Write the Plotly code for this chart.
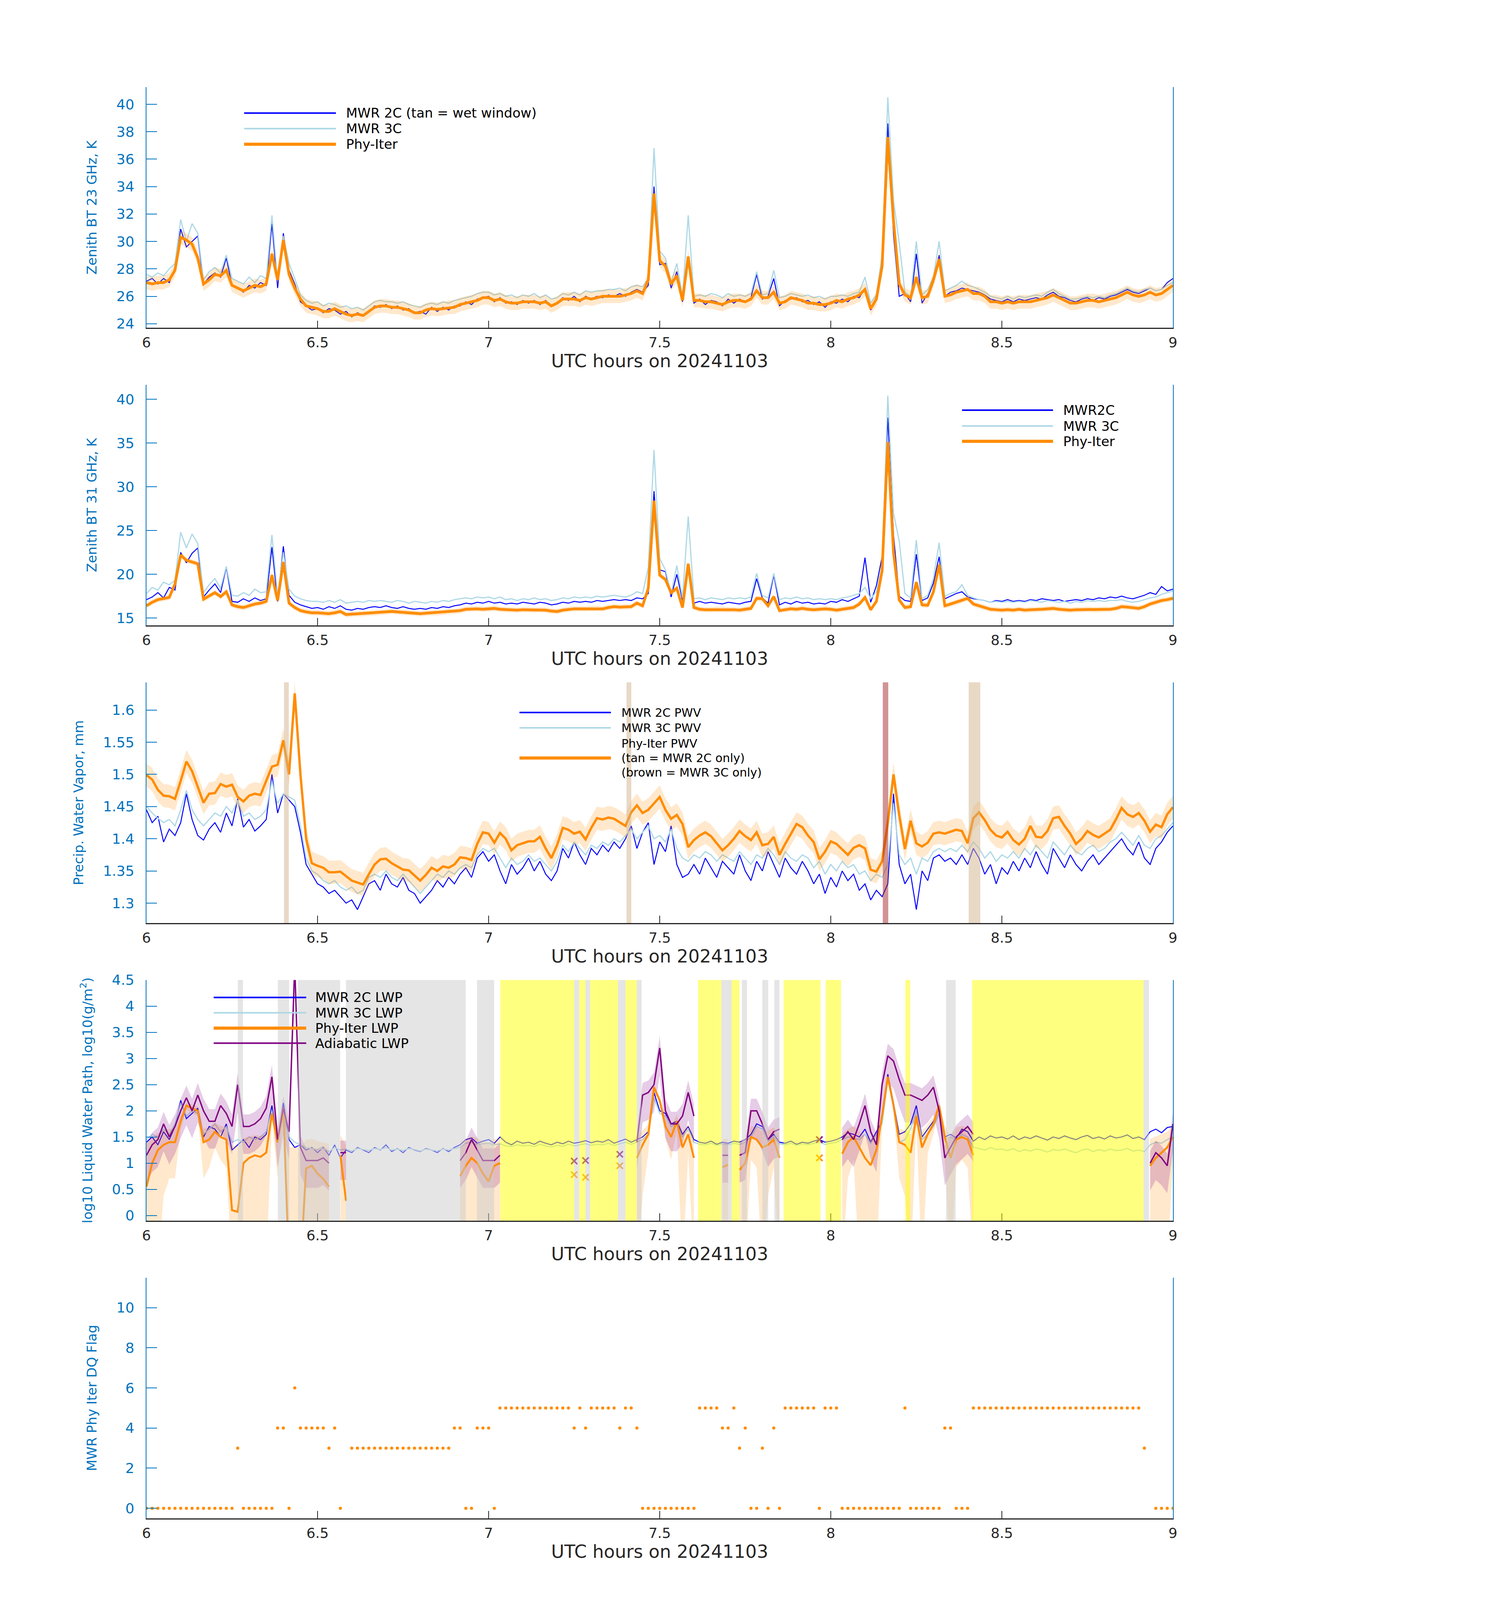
import numpy as np
import plotly.graph_objects as go

N = None
# ---------------- time axis (1-minute samples, UTC hours) ----------------
T_START = 6.0
def tgrid(vals):
    return T_START + np.arange(len(vals)) / 60.0

# ---------------- Panel 1: 23 GHz brightness temperature (K) ----------------
tb23_2c = [27.1, 27.3, 26.9, 27.3, 27.0, 28.1, 30.9, 29.6, 30.0, 30.4,
           26.9, 27.4, 27.7, 27.4, 28.8, 26.8, 26.6, 26.3, 26.8, 26.6,
           27.0, 26.8, 31.3, 26.6, 30.6, 27.9, 26.9, 25.6, 25.3, 25.0,
           25.1, 24.8, 25.1, 25.0, 24.7, 24.9, 24.5, 24.8, 24.6, 24.9,
           25.3, 25.2, 25.4, 25.1, 25.3, 25.0, 25.1, 24.8, 24.9, 24.7,
           25.2, 24.9, 25.2, 25.0, 25.3, 25.3, 25.6, 25.4, 25.8, 25.9,
           26.0, 25.6, 25.9, 25.5, 25.6, 25.4, 25.7, 25.5, 25.7, 25.4,
           25.7, 25.3, 25.5, 25.9, 25.7, 26.0, 25.6, 26.0, 25.8, 26.0,
           25.9, 26.1, 26.0, 26.2, 26.0, 26.3, 26.5, 26.3, 26.8, 34.0,
           28.3, 28.4, 26.6, 27.8, 25.6, 28.8, 25.5, 25.8, 25.4, 25.7,
           25.6, 25.3, 25.8, 25.5, 25.8, 25.6, 25.9, 27.6, 25.8, 26.0,
           27.3, 25.3, 25.7, 25.8, 25.9, 25.6, 25.7, 25.4, 25.6, 25.2,
           25.6, 25.5, 25.8, 25.6, 26.0, 25.9, 26.6, 25.0, 25.7, 28.0,
           38.6, 30.5, 26.0, 26.2, 25.6, 29.1, 25.5, 26.2, 27.0, 29.0,
           26.0, 26.3, 26.4, 26.6, 26.5, 26.4, 26.3, 26.1, 25.8, 25.7,
           25.6, 25.8, 25.6, 25.8, 25.7, 25.8, 25.9, 25.8, 26.1, 26.3,
           26.0, 25.9, 25.7, 25.6, 25.8, 25.9, 25.7, 25.9, 25.8, 26.0,
           26.1, 26.3, 26.5, 26.3, 26.2, 26.4, 26.6, 26.4, 26.5, 27.0,
           27.3]
tb23_3c = [27.6, 27.4, 27.7, 27.5, 28.0, 28.4, 31.6, 30.0, 31.3, 30.6,
           27.2, 27.8, 28.1, 27.7, 29.0, 27.3, 27.1, 26.9, 27.4, 27.0,
           27.5, 27.3, 31.9, 27.2, 30.4, 28.4, 27.3, 26.1, 25.7, 25.5,
           25.6, 25.3, 25.5, 25.4, 25.2, 25.3, 25.1, 25.2, 25.0, 25.3,
           25.6, 25.7, 25.6, 25.6, 25.5, 25.6, 25.4, 25.3, 25.2, 25.4,
           25.5, 25.4, 25.6, 25.5, 25.7, 25.8, 25.9, 26.0, 26.2, 26.3,
           26.3, 26.1, 26.2, 26.0, 26.1, 25.9, 26.1, 26.0, 26.2, 25.9,
           26.1, 25.8, 25.9, 26.2, 26.1, 26.3, 26.1, 26.4, 26.3, 26.4,
           26.4, 26.5, 26.5, 26.6, 26.4, 26.7, 26.8, 26.7, 27.3, 36.8,
           29.3, 28.8, 27.0, 28.4, 26.0, 31.9, 26.0, 26.1, 26.0, 26.2,
           26.1, 25.9, 26.2, 26.0, 26.1, 26.0, 26.2, 27.8, 26.1, 26.2,
           27.9, 25.9, 26.0, 26.2, 26.1, 26.0, 26.1, 25.9, 26.0, 25.8,
           26.0, 26.0, 26.1, 26.0, 26.2, 26.3, 27.4, 25.5, 26.1, 29.0,
           40.5, 33.0, 29.9, 26.3, 26.0, 30.0, 26.1, 26.5, 27.4, 30.0,
           26.4, 26.6, 26.8, 27.1, 26.8, 26.7, 26.5, 26.3, 26.0, 25.9,
           25.8, 26.0, 25.8, 26.0, 25.9, 26.0, 26.1, 26.0, 26.3, 26.5,
           26.2, 26.0, 25.8, 25.8, 25.9, 26.0, 25.9, 26.0, 25.9, 26.1,
           26.2, 26.4, 26.6, 26.4, 26.3, 26.5, 26.6, 26.4, 26.5, 26.8,
           27.0]
tb23_phy = [27.0, 26.9, 27.0, 27.0, 27.2, 27.9, 30.3, 30.1, 29.8, 28.8,
            26.9, 27.2, 27.6, 27.5, 27.9, 26.8, 26.6, 26.4, 26.6, 26.8,
            26.7, 26.9, 29.1, 27.2, 30.1, 27.6, 26.6, 25.8, 25.3, 25.2,
            25.1, 24.9, 24.9, 25.1, 24.9, 24.7, 24.6, 24.7, 24.6, 24.9,
            25.2, 25.3, 25.3, 25.2, 25.2, 25.1, 25.0, 24.8, 24.8, 25.0,
            25.1, 25.05, 25.1, 25.2, 25.2, 25.4, 25.5, 25.6, 25.7, 25.9,
            25.9, 25.7, 25.8, 25.6, 25.5, 25.5, 25.6, 25.6, 25.6, 25.5,
            25.6, 25.3, 25.5, 25.8, 25.8, 25.8, 25.7, 25.9, 25.8, 25.9,
            26.0, 26.0, 26.0, 26.0, 26.1, 26.2, 26.4, 26.2, 27.2, 33.5,
            28.6, 28.2, 26.9, 27.5, 25.7, 28.9, 25.7, 25.7, 25.6, 25.6,
            25.5, 25.4, 25.6, 25.7, 25.7, 25.6, 25.8, 26.4, 25.9, 25.9,
            26.3, 25.5, 25.6, 25.9, 25.8, 25.7, 25.5, 25.5, 25.4, 25.4,
            25.5, 25.7, 25.6, 25.8, 25.9, 26.1, 26.5, 25.1, 25.8, 28.2,
            37.6, 31.5, 26.9, 26.1, 25.9, 27.4, 25.9, 26.0, 27.2, 28.7,
            26.0, 26.1, 26.3, 26.4, 26.5, 26.2, 26.2, 26.0, 25.6, 25.6,
            25.5, 25.6, 25.5, 25.6, 25.6, 25.6, 25.7, 25.8, 25.9, 26.1,
            25.9, 25.7, 25.5, 25.5, 25.6, 25.7, 25.7, 25.6, 25.7, 25.8,
            25.9, 26.1, 26.3, 26.1, 26.0, 26.1, 26.3, 26.1, 26.2, 26.5,
            26.8]
tb23_unc = 0.5

# ---------------- Panel 2: 31 GHz brightness temperature (K) ----------------
tb31_2c = [17.1, 17.4, 17.9, 17.3, 18.5, 18.2, 22.5, 21.3, 22.4, 23.0,
           17.4, 18.2, 18.9, 17.9, 20.8, 16.9, 16.8, 17.2, 16.9, 17.3,
           17.0, 17.2, 23.1, 16.9, 23.2, 17.6, 16.8, 16.5, 16.3, 16.1,
           16.2, 16.0, 16.3, 16.1, 16.4, 16.0, 15.9, 16.1, 16.0, 16.2,
           16.3, 16.2, 16.4, 16.2, 16.1, 16.3, 16.1, 16.0, 16.1, 16.0,
           16.2, 16.1, 16.3, 16.2, 16.4, 16.5, 16.7, 16.6, 16.8, 16.7,
           16.9, 16.7, 16.8, 16.6, 16.7, 16.6, 16.8, 16.7, 16.6, 16.8,
           16.7, 16.5, 16.6, 16.8, 16.7, 16.9, 16.8, 16.9, 16.8, 17.0,
           16.9, 17.0, 17.1, 17.0, 17.1, 17.0, 17.3, 17.2, 17.8, 29.5,
           20.5, 20.3, 17.4, 20.0, 17.0, 21.2, 16.7, 16.9, 16.7, 16.8,
           16.7, 16.6, 16.8, 16.7, 16.6, 16.8, 16.9, 19.5, 17.3, 16.7,
           19.9, 16.5, 16.8, 16.6, 16.9, 16.7, 16.8, 16.6, 16.7, 16.6,
           16.9, 16.8, 17.1, 16.9, 17.2, 17.5, 21.9, 16.8, 18.7, 22.0,
           37.9, 24.5, 17.5, 17.0, 16.9, 22.3, 17.0, 17.3, 19.0, 22.0,
           17.2, 17.5, 17.8, 18.0, 17.4, 17.2, 17.1, 17.0, 16.8, 17.0,
           16.9, 17.1, 16.9, 17.0, 16.9, 17.1, 17.0, 17.2, 17.1, 17.0,
           17.1, 16.9, 17.0, 17.1, 17.0, 17.2, 17.1, 17.3, 17.2, 17.4,
           17.3, 17.5, 17.3, 17.2, 17.4, 17.6, 17.9, 17.7, 18.6, 18.1,
           18.3]
tb31_3c = [17.8, 18.5, 18.2, 19.1, 18.8, 19.3, 24.8, 23.0, 24.6, 23.5,
           17.9, 18.8, 19.5, 18.4, 20.9, 17.6, 17.5, 17.9, 17.6, 18.3,
           17.9, 18.0, 24.5, 17.6, 22.5, 18.3, 17.5, 17.2, 17.0, 16.9,
           16.9, 16.8, 17.0, 16.8, 17.1, 16.7, 16.8, 16.9, 16.8, 17.0,
           16.9, 17.0, 16.9, 16.8, 17.0, 16.9, 16.7, 16.9, 16.8, 16.7,
           16.9, 16.8, 17.0, 16.9, 17.1, 17.2, 17.3, 17.2, 17.4, 17.3,
           17.4, 17.2, 17.4, 17.1, 17.2, 17.0, 17.2, 17.1, 17.3, 17.1,
           17.2, 17.0, 17.1, 17.3, 17.2, 17.4, 17.3, 17.4, 17.3, 17.5,
           17.4, 17.5, 17.6, 17.5, 17.4, 17.6, 18.0, 17.8, 20.8, 34.2,
           21.8, 20.5, 17.8, 21.0, 17.3, 26.6, 17.2, 17.3, 17.1, 17.3,
           17.2, 17.1, 17.3, 17.2, 17.3, 17.2, 17.4, 20.1, 17.6, 17.3,
           20.1, 17.1, 17.3, 17.2, 17.4, 17.2, 17.3, 17.1, 17.2, 17.1,
           17.2, 17.1, 17.3, 17.4, 17.6, 17.8, 18.5, 17.2, 18.0, 21.0,
           40.4, 27.0, 23.8, 17.8, 17.3, 23.9, 17.2, 17.6, 19.5, 23.6,
           17.5, 17.8, 18.0, 18.8, 17.6, 17.3, 17.1, 17.0, 16.8, 16.9,
           16.8, 16.9, 16.8, 16.9, 16.8, 17.0, 16.9, 16.8, 17.0, 16.9,
           16.8, 16.9, 16.7, 16.9, 16.8, 17.0, 16.9, 17.0, 16.9, 17.0,
           17.0, 17.1, 16.9, 16.8, 16.9, 17.1, 17.3, 17.4, 17.7, 17.9,
           18.1]
tb31_phy = [16.4, 16.8, 17.1, 17.25, 17.35, 18.9, 22.2, 21.6, 21.4, 21.2,
            17.15, 17.5, 17.9, 17.45, 18.0, 16.5, 16.3, 16.2, 16.4, 16.6,
            16.7, 16.9, 19.9, 17.0, 21.4, 16.7, 16.2, 15.85, 15.7, 15.6,
            15.6, 15.55, 15.5, 15.6, 15.75, 15.4, 15.45, 15.5, 15.5, 15.55,
            15.6, 15.65, 15.7, 15.75, 15.7, 15.65, 15.6, 15.55, 15.5, 15.55,
            15.6, 15.6, 15.65, 15.75, 15.75, 15.85, 16.0, 16.05, 16.05, 16.0,
            16.05, 16.1, 16.0, 15.95, 15.95, 15.9, 15.95, 15.95, 15.9, 15.95,
            15.9, 15.8, 15.75, 15.9, 16.0, 16.05, 16.05, 16.05, 16.1, 16.1,
            16.05, 16.2, 16.3, 16.25, 16.3, 16.3, 16.7, 16.4, 18.4, 28.4,
            19.9, 19.4, 17.9, 18.4, 16.2, 21.2, 16.2, 16.0, 15.95, 15.95,
            16.0, 16.0, 15.95, 15.95, 15.9, 16.0, 16.1, 17.25, 17.2, 16.4,
            17.45, 15.85, 15.95, 16.05, 16.0, 16.1, 16.0, 15.95, 16.0, 16.05,
            16.0, 15.9, 16.0, 16.1, 16.2, 16.6, 17.35, 15.95, 16.9, 20.4,
            35.1, 22.5, 17.05, 16.2, 16.3, 19.1, 16.5, 16.45, 18.0, 21.1,
            16.4, 16.6, 16.8, 17.0, 17.25, 16.6, 16.4, 16.2, 16.0, 15.95,
            15.9, 15.95, 15.9, 16.0, 15.9, 15.95, 15.95, 16.0, 16.05, 16.1,
            16.0, 15.95, 15.9, 15.95, 15.95, 16.0, 15.95, 15.95, 16.0, 16.0,
            16.1, 16.3, 16.25, 16.2, 16.1, 16.3, 16.6, 16.8, 17.0, 17.1,
            17.25]
tb31_unc = 0.3

# ---------------- Panel 3: precipitable water vapour (mm) ----------------
pwv_2c = [1.445, 1.425, 1.435, 1.395, 1.415, 1.405, 1.425, 1.470, 1.430, 1.405,
          1.398, 1.415, 1.425, 1.410, 1.440, 1.420, 1.462, 1.418, 1.430, 1.412,
          1.420, 1.430, 1.500, 1.440, 1.470, 1.460, 1.450, 1.410, 1.360, 1.345,
          1.330, 1.325, 1.315, 1.320, 1.310, 1.300, 1.305, 1.290, 1.310, 1.330,
          1.335, 1.320, 1.345, 1.330, 1.325, 1.340, 1.320, 1.315, 1.300, 1.310,
          1.320, 1.335, 1.325, 1.340, 1.330, 1.345, 1.355, 1.340, 1.370, 1.380,
          1.365, 1.375, 1.350, 1.330, 1.360, 1.345, 1.355, 1.370, 1.350, 1.365,
          1.345, 1.335, 1.350, 1.385, 1.370, 1.395, 1.375, 1.360, 1.385, 1.375,
          1.390, 1.380, 1.395, 1.385, 1.400, 1.420, 1.385, 1.410, 1.425, 1.360,
          1.395, 1.380, 1.420, 1.360, 1.340, 1.345, 1.360, 1.345, 1.370, 1.355,
          1.340, 1.365, 1.355, 1.345, 1.375, 1.350, 1.335, 1.365, 1.350, 1.380,
          1.360, 1.340, 1.370, 1.355, 1.345, 1.365, 1.350, 1.330, 1.345, 1.315,
          1.340, 1.325, 1.350, 1.335, 1.345, 1.320, 1.330, 1.305, 1.320, 1.310,
          1.330, 1.470, 1.360, 1.330, 1.345, 1.290, 1.350, 1.335, 1.370, 1.375,
          1.365, 1.370, 1.360, 1.375, 1.360, 1.385, 1.370, 1.345, 1.360, 1.330,
          1.355, 1.345, 1.365, 1.350, 1.370, 1.355, 1.380, 1.360, 1.345, 1.385,
          1.370, 1.355, 1.375, 1.360, 1.350, 1.365, 1.375, 1.360, 1.370, 1.380,
          1.390, 1.400, 1.385, 1.375, 1.395, 1.370, 1.360, 1.385, 1.395, 1.410,
          1.420]
pwv_3c = [1.450, 1.440, 1.432, 1.425, 1.430, 1.420, 1.445, 1.475, 1.445, 1.430,
          1.420, 1.430, 1.440, 1.435, 1.450, 1.440, 1.460, 1.435, 1.440, 1.430,
          1.435, 1.445, 1.490, 1.455, 1.470, 1.465, 1.460, 1.420, 1.370, 1.350,
          1.345, 1.335, 1.330, 1.335, 1.325, 1.320, 1.325, 1.315, 1.320, 1.340,
          1.345, 1.340, 1.350, 1.340, 1.335, 1.345, 1.335, 1.325, 1.315, 1.325,
          1.335, 1.345, 1.340, 1.350, 1.345, 1.355, 1.360, 1.355, 1.375, 1.385,
          1.380, 1.385, 1.370, 1.355, 1.370, 1.360, 1.365, 1.375, 1.365, 1.370,
          1.360, 1.350, 1.365, 1.390, 1.380, 1.395, 1.385, 1.375, 1.390, 1.385,
          1.395, 1.390, 1.400, 1.395, 1.405, 1.415, 1.400, 1.410, 1.420, 1.400,
          1.405, 1.395, 1.415, 1.385, 1.370, 1.365, 1.375, 1.370, 1.380, 1.375,
          1.365, 1.375, 1.370, 1.365, 1.380, 1.370, 1.360, 1.375, 1.370, 1.385,
          1.375, 1.360, 1.380, 1.370, 1.365, 1.375, 1.370, 1.355, 1.365, 1.345,
          1.360, 1.350, 1.365, 1.355, 1.360, 1.345, 1.350, 1.335, 1.345, 1.340,
          1.360, 1.455, 1.375, 1.360, 1.370, 1.345, 1.370, 1.365, 1.380, 1.385,
          1.380, 1.385, 1.380, 1.390, 1.380, 1.395, 1.385, 1.370, 1.380, 1.365,
          1.375, 1.370, 1.380, 1.370, 1.385, 1.375, 1.390, 1.380, 1.370, 1.395,
          1.385, 1.375, 1.390, 1.380, 1.375, 1.385, 1.390, 1.380, 1.385, 1.395,
          1.400, 1.410, 1.400, 1.390, 1.405, 1.390, 1.385, 1.400, 1.405, 1.415,
          1.425]
pwv_phy = [1.499, 1.492, 1.476, 1.467, 1.466, 1.462, 1.490, 1.520, 1.505, 1.481,
           1.456, 1.470, 1.471, 1.485, 1.481, 1.484, 1.465, 1.458, 1.467, 1.470,
           1.468, 1.490, 1.512, 1.515, 1.553, 1.500, 1.626, 1.500, 1.400, 1.362,
           1.358, 1.355, 1.348, 1.348, 1.349, 1.342, 1.335, 1.332, 1.329, 1.345,
           1.360, 1.368, 1.369, 1.362, 1.357, 1.352, 1.351, 1.343, 1.335, 1.344,
           1.355, 1.350, 1.357, 1.355, 1.360, 1.371, 1.370, 1.367, 1.392, 1.410,
           1.408, 1.394, 1.409, 1.400, 1.382, 1.390, 1.393, 1.396, 1.396, 1.403,
           1.385, 1.370, 1.390, 1.417, 1.414, 1.408, 1.411, 1.399, 1.417, 1.432,
           1.430, 1.433, 1.431, 1.426, 1.420, 1.441, 1.452, 1.440, 1.445, 1.455,
           1.465, 1.445, 1.431, 1.437, 1.423, 1.387, 1.398, 1.405, 1.410, 1.404,
           1.393, 1.382, 1.390, 1.400, 1.412, 1.404, 1.398, 1.410, 1.390, 1.392,
           1.403, 1.375, 1.392, 1.408, 1.423, 1.418, 1.405, 1.395, 1.368, 1.380,
           1.396, 1.392, 1.383, 1.375, 1.386, 1.390, 1.385, 1.352, 1.349, 1.365,
           1.425, 1.500, 1.437, 1.384, 1.428, 1.393, 1.388, 1.394, 1.408, 1.410,
           1.408, 1.411, 1.414, 1.412, 1.393, 1.432, 1.441, 1.429, 1.414, 1.405,
           1.402, 1.411, 1.398, 1.391, 1.400, 1.420, 1.403, 1.402, 1.412, 1.432,
           1.434, 1.420, 1.408, 1.392, 1.400, 1.412, 1.406, 1.402, 1.408, 1.414,
           1.430, 1.448, 1.438, 1.434, 1.440, 1.428, 1.411, 1.422, 1.418, 1.438,
           1.449]
pwv_unc = 0.018
pwv_tan_windows = [(6.402, 6.416), (7.403, 7.417), (8.403, 8.437)]
pwv_brown_windows = [(8.152, 8.168)]

# ---------------- Panel 4: log10 liquid water path ----------------
lwp_2c = [1.40, 1.50, 1.35, 1.60, 1.45, 1.70, 2.20, 1.85, 1.95, 2.05,
          1.50, 1.70, 1.65, 1.50, 1.75, 1.25, 1.35, 1.45, 1.30, 1.50,
          1.45, 1.55, 2.10, 1.40, 2.15, 1.45, 1.30, 1.35, 1.25, 1.30,
          1.20, 1.30, 1.15, 1.35, 1.10, 1.25, 1.20, 1.30, 1.25, 1.20,
          1.30, 1.25, 1.35, 1.22, 1.28, 1.20, 1.30, 1.25, 1.22, 1.28,
          1.25, 1.20, 1.28, 1.22, 1.30, 1.35, 1.45, 1.48, 1.38, 1.42,
          1.45, 1.38, 1.50, 1.40, 1.35, 1.42, 1.38, 1.40, 1.36, 1.42,
          1.38, 1.35, 1.40, 1.37, 1.42, 1.38, 1.40, 1.43, 1.39, 1.42,
          1.40, 1.45, 1.38, 1.42, 1.46, 1.40, 1.45, 1.50, 1.60, 2.35,
          2.00, 1.95, 1.75, 1.80, 1.55, 1.70, 1.45, 1.40, 1.38, 1.42,
          1.36, 1.40, 1.38, 1.42, 1.40, 1.45, 1.55, 1.75, 1.70, 1.45,
          1.55, 1.40, 1.38, 1.42, 1.36, 1.40, 1.38, 1.42, 1.45, 1.40,
          1.42, 1.45, 1.50, 1.58, 1.55, 1.50, 1.65, 1.40, 1.60, 1.80,
          2.70, 2.15, 1.55, 1.60, 1.75, 2.10, 1.50, 1.65, 1.80, 2.05,
          1.50, 1.55, 1.48, 1.65, 1.60, 1.42, 1.50, 1.45, 1.52, 1.48,
          1.50, 1.46, 1.52, 1.45, 1.50, 1.47, 1.52, 1.48, 1.44, 1.50,
          1.47, 1.52, 1.48, 1.45, 1.50, 1.53, 1.47, 1.50, 1.46, 1.52,
          1.48, 1.50, 1.54, 1.47, 1.50, 1.45, 1.60, 1.65, 1.58, 1.68,
          1.70]
lwp_3c = [1.45, 1.55, 1.50, 1.65, 1.55, 1.75, 2.15, 1.90, 2.00, 1.95,
          1.55, 1.65, 1.75, 1.60, 1.70, 1.40, 1.45, 1.40, 1.50, 1.45,
          1.50, 1.60, 2.00, 1.45, 1.90, 1.50, 1.40, 1.35, 1.30, 1.28,
          1.25, 1.28, 1.22, 1.30, 1.25, 1.27, 1.23, 1.28, 1.26, 1.24,
          1.28, 1.26, 1.30, 1.25, 1.27, 1.24, 1.28, 1.26, 1.23, 1.27,
          1.25, 1.23, 1.27, 1.25, 1.28, 1.30, 1.38, 1.40, 1.35, 1.37,
          1.38, 1.35, 1.37, 1.33, 1.32, 1.35, 1.33, 1.34, 1.32, 1.36,
          1.33, 1.31, 1.34, 1.32, 1.36, 1.33, 1.35, 1.37, 1.34, 1.36,
          1.35, 1.38, 1.34, 1.37, 1.40, 1.36, 1.40, 1.45, 1.55, 2.25,
          1.95, 1.90, 1.70, 1.75, 1.50, 1.65, 1.40, 1.36, 1.35, 1.38,
          1.34, 1.37, 1.35, 1.38, 1.36, 1.40, 1.50, 1.70, 1.65, 1.42,
          1.50, 1.37, 1.35, 1.38, 1.34, 1.37, 1.35, 1.38, 1.40, 1.36,
          1.38, 1.40, 1.45, 1.50, 1.48, 1.45, 1.55, 1.38, 1.55, 1.75,
          2.60, 2.10, 1.40, 1.45, 1.65, 2.00, 1.45, 1.55, 1.70, 1.95,
          1.45, 1.50, 1.45, 1.55, 1.50, 1.30, 1.28, 1.25, 1.30, 1.26,
          1.27, 1.24, 1.28, 1.22, 1.26, 1.23, 1.27, 1.25, 1.21, 1.26,
          1.24, 1.27, 1.23, 1.20, 1.25, 1.27, 1.22, 1.26, 1.23, 1.27,
          1.24, 1.25, 1.28, 1.23, 1.25, 1.22, 1.35, 1.40, 1.38, 1.45,
          1.50]
lwp_phy = [0.55, 1.00, 1.25, 1.35, 1.40, 1.40, 1.80, 2.10, 2.05, 2.00,
           1.40, 1.45, 1.60, 1.50, 1.45, 0.10, 0.07, 1.00, 1.10, 1.15,
           1.12, 1.20, 1.95, 1.40, 2.05, -1.0, -1.0, -1.0, 0.90, 0.95,
           0.80, 0.70, 0.55, N, 1.15, 0.28, N, N, N, N,
           N, N, N, N, N, N, N, N, N, N,
           N, N, N, N, N, 0.75, 0.95, 1.10, 1.00, 0.80,
           0.65, 0.95, 1.00, N, N, N, N, N, N, N,
           N, N, N, N, N, 0.78, N, 0.73, N, N,
           N, N, N, 0.95, N, N, 1.10, 1.35, 1.55, 2.45,
           2.20, 1.70, 1.50, 1.80, 1.30, 1.55, 1.10, N, N, N,
           N, 0.92, 0.97, N, 0.87, 1.00, 1.50, 1.45, 1.30, 1.35,
           1.45, 1.10, N, N, N, N, N, N, 1.10, N,
           N, N, 1.18, 1.40, 1.50, 1.30, 1.10, 0.96, 1.25, 1.90,
           2.65, 2.10, 1.40, 1.35, 1.20, 1.90, 1.30, 1.55, 1.75, 2.10,
           1.50, 1.10, 1.45, 1.50, 1.45, 1.15, N, N, N, N,
           N, N, N, N, N, N, N, N, N, N,
           N, N, N, N, N, N, N, N, N, N,
           N, N, N, N, N, N, 0.95, 1.10, 1.20, 1.30,
           1.50]
lwp_adiab = [1.15, 1.35, 1.45, 1.75, 1.50, 1.70, 2.00, 2.25, 2.00, 2.30,
             2.00, 1.80, 1.80, 2.10, 1.95, 1.70, 2.50, 1.70, 1.70, 1.75,
             1.85, 2.05, 2.65, 1.45, 2.05, 1.60, 4.80, 1.30, 1.05, 1.05,
             1.05, 1.10, 1.00, N, 1.20, 1.20, N, N, N, N,
             N, N, N, N, N, N, N, N, N, N,
             N, N, N, N, N, 1.05, 1.20, 1.45, 1.25, 1.05,
             1.05, 1.05, 1.15, N, N, N, N, N, N, N,
             N, N, N, N, N, 1.04, N, 1.05, N, N,
             N, N, N, 1.17, N, N, 1.40, 2.30, 2.35, 2.50,
             3.20, 2.00, 1.75, 1.75, 1.90, 2.35, 1.90, N, N, N,
             N, 1.15, 1.15, N, 1.15, 1.20, 2.00, 2.00, 1.75, 1.45,
             1.60, 1.65, N, N, N, N, N, N, 1.45, N,
             N, N, 1.45, 1.60, 1.45, 1.75, 2.10, 1.60, 1.35, 2.50,
             3.05, 2.95, 2.60, 2.30, 2.30, 2.25, 2.20, 2.30, 2.45, 2.00,
             1.10, 1.30, 1.50, 1.60, 1.70, 1.55, N, N, N, N,
             N, N, N, N, N, N, N, N, N, N,
             N, N, N, N, N, N, N, N, N, N,
             N, N, N, N, N, N, 1.00, 1.20, 1.10, 0.95,
             1.75]
lwp_phy_unc_gm2 = 20.0      # absolute retrieval uncertainty, g/m^2
lwp_adiab_unc_frac = 0.7    # fractional uncertainty of adiabatic LWP
lwp_grey_windows = [(6.267, 6.282), (6.384, 6.417), (6.443, 6.566), (6.583, 6.933),
                    (6.966, 7.016), (7.250, 7.265), (7.283, 7.297), (7.378, 7.400),
                    (7.433, 7.447), (7.680, 7.710), (7.740, 7.755), (7.800, 7.817),
                    (7.835, 7.850), (8.337, 8.365), (8.914, 8.930)]
lwp_yellow_windows = [(7.034, 7.250), (7.265, 7.283), (7.297, 7.378), (7.400, 7.433),
                      (7.612, 7.680), (7.710, 7.733), (7.862, 7.970), (7.985, 8.030),
                      (8.218, 8.232), (8.413, 8.914)]

# ---------------- Panel 5: Phy-Iter data quality flag ----------------
dq_flag = [0, 0, 0, 0, 0, 0, 0, 0, 0, 0,
           0, 0, 0, 0, 0, 0, 3, 0, 0, 0,
           0, 0, 0, 4, 4, 0, 6, 4, 4, 4,
           4, 4, 3, 4, 0, N, 3, 3, 3, 3,
           3, 3, 3, 3, 3, 3, 3, 3, 3, 3,
           3, 3, 3, 3, 4, 4, 0, 0, 4, 4,
           4, 0, 5, 5, 5, 5, 5, 5, 5, 5,
           5, 5, 5, 5, 5, 4, 5, 4, 5, 5,
           5, 5, 5, 4, 5, 5, 4, 0, 0, 0,
           0, 0, 0, 0, 0, 0, 0, 5, 5, 5,
           5, 4, 4, 5, 3, 4, 0, 0, 3, 0,
           4, 0, 5, 5, 5, 5, 5, 5, 0, 5,
           5, 5, 0, 0, 0, 0, 0, 0, 0, 0,
           0, 0, 0, 5, 0, 0, 0, 0, 0, 0,
           4, 4, 0, 0, 0, 5, 5, 5, 5, 5,
           5, 5, 5, 5, 5, 5, 5, 5, 5, 5,
           5, 5, 5, 5, 5, 5, 5, 5, 5, 5,
           5, 5, 5, 5, 5, 3, N, 0, 0, 0,
           0]

# ---------------- page geometry ----------------
# Layout is written in the reference's 3825 x 6000 pixel frame. Vertical
# positions are fractions of the window height (so the whole figure fills the
# window that is actually available); the page body adds an 8 px margin.
BODY = 8
W_WIN, H_WIN = 3825, 6000
V = 0.70                                    # expected vertical squeeze of the window
W_FIG = W_WIN - BODY
AX_L, AX_R = 375, 3003                      # window x of left / right axis
ML, MR = AX_L - BODY, W_FIG - (AX_R - BODY)
PANEL_TOPS = [296, 1421, 2546, 3671, 4796]  # reference y of panel tops
PANEL_H = 910
FONT = "DejaVu Sans"
AX_BLUE = "#0072BD"
DARK = "#262626"
C2 = "#0000FF"
C3 = "#ADD8E6"
CPHY = "#FF8C00"
CPHY_BAND = "rgba(255,140,0,0.2)"
CAD = "#800080"
CAD_BAND = "rgba(128,0,128,0.2)"


def PX(x):
    return (x - AX_L) / (AX_R - AX_L)


def PY(y):
    return 1 - (y - BODY) / (H_WIN - BODY)


def axn(k):
    return ("x" if k == 1 else f"x{k}", "y" if k == 1 else f"y{k}")


fig = go.Figure()


def line(k, t, v, color, width, name):
    xa, ya = axn(k)
    fig.add_trace(go.Scatter(x=t, y=v, mode="lines", line=dict(color=color, width=width),
                             name=name, showlegend=False, xaxis=xa, yaxis=ya,
                             connectgaps=False))


def band(k, t, lo, hi, color):
    xa, ya = axn(k)
    xs = list(t) + list(t[::-1])
    ys = list(hi) + list(lo[::-1])
    fig.add_trace(go.Scatter(x=xs, y=ys, mode="lines", fill="toself", fillcolor=color,
                             line=dict(width=0), hoverinfo="skip", showlegend=False,
                             xaxis=xa, yaxis=ya))


# Panel 1
t = tgrid(tb23_phy)
line(1, tgrid(tb23_2c), tb23_2c, C2, 2.5, "MWR 2C")
line(1, tgrid(tb23_3c), tb23_3c, C3, 3, "MWR 3C")
a = np.array(tb23_phy)
band(1, t, a - tb23_unc, a + tb23_unc, CPHY_BAND)
line(1, t, tb23_phy, CPHY, 7, "Phy-Iter")

# Panel 2
t = tgrid(tb31_phy)
line(2, tgrid(tb31_2c), tb31_2c, C2, 2.5, "MWR2C")
line(2, tgrid(tb31_3c), tb31_3c, C3, 3, "MWR 3C")
a = np.array(tb31_phy)
band(2, t, a - tb31_unc, a + tb31_unc, CPHY_BAND)
line(2, t, tb31_phy, CPHY, 7, "Phy-Iter")

# Panel 3
t = tgrid(pwv_phy)
line(3, tgrid(pwv_2c), pwv_2c, C2, 2.5, "MWR 2C PWV")
line(3, tgrid(pwv_3c), pwv_3c, C3, 3, "MWR 3C PWV")
a = np.array(pwv_phy)
band(3, t, a - pwv_unc, a + pwv_unc, CPHY_BAND)
line(3, t, pwv_phy, CPHY, 6, "Phy-Iter PWV")


# Panel 4
def segments(vals):
    segs, cur = [], []
    for i, v in enumerate(vals):
        if v is None:
            if cur:
                segs.append(cur)
            cur = []
        else:
            cur.append(i)
    if cur:
        segs.append(cur)
    return segs


line(4, tgrid(lwp_2c), lwp_2c, C2, 2.5, "MWR 2C LWP")
line(4, tgrid(lwp_3c), lwp_3c, C3, 3, "MWR 3C LWP")
t4 = tgrid(lwp_phy)
for seg in segments(lwp_phy):
    if len(seg) < 2:
        continue
    L = 10 ** np.array([lwp_phy[i] for i in seg])
    hi = np.log10(L + lwp_phy_unc_gm2)
    d = L - lwp_phy_unc_gm2
    lo = np.where(d > 0, np.log10(np.clip(d, 1e-6, None)), -1.0)
    band(4, t4[seg], lo, hi, CPHY_BAND)
for seg in segments(lwp_adiab):
    if len(seg) < 2:
        continue
    L = 10 ** np.array([lwp_adiab[i] for i in seg])
    hi = np.log10(L * (1 + lwp_adiab_unc_frac))
    lo = np.log10(L * (1 - lwp_adiab_unc_frac))
    band(4, t4[seg], lo, hi, CAD_BAND)
line(4, t4, lwp_phy, CPHY, 5, "Phy-Iter LWP")
line(4, tgrid(lwp_adiab), lwp_adiab, CAD, 3.5, "Adiabatic LWP")
for vals, col in ((lwp_phy, CPHY), (lwp_adiab, CAD)):
    iso = [s[0] for s in segments(vals) if len(s) == 1]
    fig.add_trace(go.Scatter(x=t4[iso], y=[vals[i] for i in iso], mode="markers",
                             marker=dict(symbol="x-thin-open", size=16, color=col,
                                         line=dict(width=4, color=col)),
                             showlegend=False, xaxis="x4", yaxis="y4"))

# Panel 5
fig.add_trace(go.Scatter(x=tgrid(dq_flag), y=dq_flag, mode="markers",
                         marker=dict(symbol="circle", size=8, color=CPHY),
                         showlegend=False, xaxis="x5", yaxis="y5"))

# ---------------- axes ----------------
y_ranges = [[23.7, 41.25], [14.15, 41.65], [1.269, 1.643], [-0.1, 4.5], [-0.5, 11.5]]
y_dticks = [2, 5, 0.05, 0.5, 2]
y_titles = ["Zenith BT 23 GHz, K", "Zenith BT 31 GHz, K", "Precip. Water Vapor, mm",
            "log10 Liquid Water Path, log10(g/m<sup>2</sup>)", "MWR Phy Iter DQ Flag"]
layout = {}
for k in range(1, 6):
    top = PANEL_TOPS[k - 1]
    bot = top + PANEL_H
    xa, ya = axn(k)
    layout["xaxis" if k == 1 else f"xaxis{k}"] = dict(
        domain=[0, 1], anchor=ya, range=[6, 9], dtick=0.5, tick0=6,
        ticks="inside", ticklen=round(27 * V), tickwidth=2, tickcolor=DARK,
        showline=True, linecolor=DARK, linewidth=2.5, showgrid=False, zeroline=False,
        tickfont=dict(family=FONT, size=36, color=DARK), ticklabelstandoff=4,
        title=dict(text="UTC hours on 20241103", font=dict(family=FONT, size=46, color=DARK),
                   standoff=2))
    layout["yaxis" if k == 1 else f"yaxis{k}"] = dict(
        domain=[PY(bot), PY(top)], anchor=xa, range=y_ranges[k - 1], dtick=y_dticks[k - 1],
        tick0=0, ticks="inside", ticklen=27, tickwidth=2, tickcolor=AX_BLUE,
        showline=True, linecolor=AX_BLUE, linewidth=2, mirror=True,
        showgrid=False, zeroline=False,
        tickfont=dict(family=FONT, size=36, color=AX_BLUE), ticklabelstandoff=22,
        title=dict(text=y_titles[k - 1], font=dict(family=FONT, size=34, color=AX_BLUE),
                   standoff=40))

shapes = []
for a0, a1 in lwp_grey_windows:
    shapes.append(dict(type="rect", xref="x4", yref="y4 domain", x0=a0, x1=a1, y0=0, y1=1,
                       fillcolor="rgb(204,204,204)", opacity=0.5, line=dict(width=0),
                       layer="above"))
for a0, a1 in lwp_yellow_windows:
    shapes.append(dict(type="rect", xref="x4", yref="y4 domain", x0=a0, x1=a1, y0=0, y1=1,
                       fillcolor="rgb(255,255,0)", opacity=0.5, line=dict(width=0),
                       layer="above"))
for a0, a1 in pwv_tan_windows:
    shapes.append(dict(type="rect", xref="x3", yref="y3 domain", x0=a0, x1=a1, y0=0, y1=1,
                       fillcolor="rgb(210,180,140)", opacity=0.5, line=dict(width=0),
                       layer="above"))
for a0, a1 in pwv_brown_windows:
    shapes.append(dict(type="rect", xref="x3", yref="y3 domain", x0=a0, x1=a1, y0=0, y1=1,
                       fillcolor="rgb(165,42,42)", opacity=0.5, line=dict(width=0),
                       layer="above"))

# ---------------- hand-built legends (long line samples as in the original) ----------------
annotations = []


def legend(x0, x1, xt, rows, size):
    for y, color, width, label in rows:
        if color is not None:
            shapes.append(dict(type="line", xref="paper", yref="paper",
                               x0=PX(x0), x1=PX(x1), y0=PY(y), y1=PY(y),
                               line=dict(color=color, width=width)))
        if label:
            annotations.append(dict(xref="paper", yref="paper", x=PX(xt), y=PY(y),
                                    text=label, showarrow=False, xanchor="left",
                                    yanchor="middle",
                                    font=dict(family=FONT, size=size, color="black")))


legend(625, 860, 884, [(394, C2, 4, "MWR 2C (tan = wet window)"),
                       (453, C3, 4, "MWR 3C"),
                       (512, CPHY, 8, "Phy-Iter")], 34)
legend(2463, 2696, 2720, [(1517, C2, 4, "MWR2C"),
                          (1577, C3, 4, "MWR 3C"),
                          (1635, CPHY, 8, "Phy-Iter")], 34)
legend(1330, 1564, 1589, [(2660, C2, 4, "MWR 2C PWV"),
                          (2718, C3, 4, "MWR 3C PWV"),
                          (2777, None, 0, "Phy-Iter PWV"),
                          (2832, CPHY, 8, "(tan = MWR 2C only)"),
                          (2887, None, 0, "(brown = MWR 3C only)")], 30)
legend(547, 784, 805, [(3737, C2, 4, "MWR 2C LWP"),
                       (3795, C3, 4, "MWR 3C LWP"),
                       (3853, CPHY, 8, "Phy-Iter LWP"),
                       (3910, CAD, 4, "Adiabatic LWP")], 34)

fig.update_layout(width=W_FIG, autosize=True,
                  margin=dict(l=ML, r=MR, t=0, b=0, pad=0),
                  paper_bgcolor="white", plot_bgcolor="white",
                  showlegend=False, shapes=shapes, annotations=annotations,
                  font=dict(family=FONT, size=36, color=DARK), **layout)

# height follows the browser window (minus the 8 px body margin)
fig.write_html("out.html", default_height="calc(100vh - 8px)")
